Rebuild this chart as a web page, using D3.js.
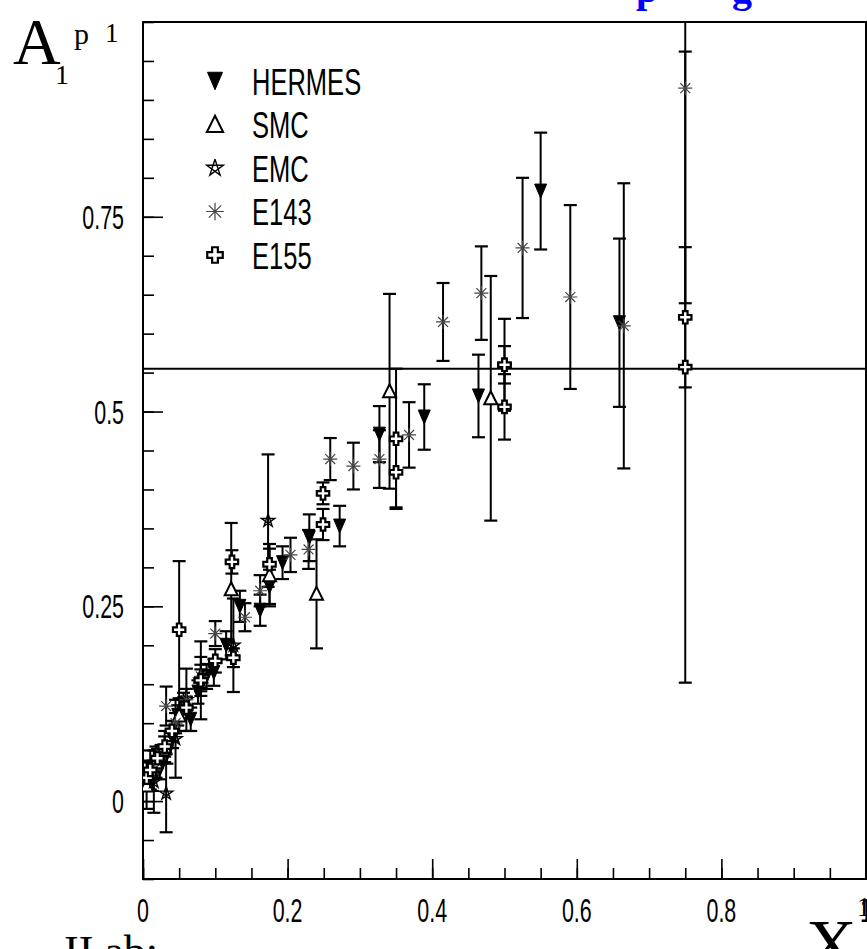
<!DOCTYPE html>
<html><head><meta charset="utf-8">
<script src="https://cdn.jsdelivr.net/npm/d3@7"></script>
<style>html,body{margin:0;padding:0;background:#fff;}svg{display:block;}</style>
</head><body>
<script>
// ---------- data ----------
const hermesX = [0.013,0.023,0.033,0.041,0.048,0.056,0.066,0.076,0.088,0.098,0.115,0.134,0.162,0.175,0.193,0.230,0.272,0.327,0.389,0.464,0.550,0.659];
const hermesY = [0.025,0.040,0.060,0.080,0.110,0.125,0.105,0.140,0.160,0.165,0.200,0.250,0.245,0.275,0.306,0.338,0.353,0.471,0.493,0.520,0.783,0.614];
const hermesE = [0.012,0.012,0.012,0.012,0.013,0.014,0.015,0.015,0.016,0.017,0.018,0.020,0.020,0.022,0.021,0.030,0.026,0.036,0.042,0.053,0.075,0.108];

const smcX = [0.005,0.010,0.018,0.030,0.050,0.080,0.122,0.175,0.240,0.341,0.481];
const smcY = [0.020,0.040,0.050,0.070,0.110,0.160,0.272,0.290,0.266,0.526,0.517];
const smcE = [0.030,0.025,0.020,0.020,0.020,0.025,0.085,0.040,0.070,0.125,0.157];

const emcX = [0.015,0.032,0.045,0.060,0.080,0.125,0.173];
const emcY = [0.025,0.010,0.080,0.130,0.155,0.200,0.360];
const emcE = [0.040,0.050,0.050,0.040,0.050,0.060,0.085];

const e143X = [0.015,0.025,0.032,0.045,0.060,0.080,0.100,0.141,0.162,0.204,0.229,0.259,0.291,0.327,0.368,0.415,0.468,0.525,0.591,0.665,0.750];
const e143Y = [0.040,0.060,0.122,0.100,0.130,0.160,0.215,0.236,0.270,0.316,0.323,0.439,0.430,0.439,0.470,0.615,0.652,0.710,0.647,0.610,0.915];
const e143E = [0.012,0.012,0.025,0.013,0.014,0.015,0.016,0.018,0.020,0.022,0.025,0.027,0.030,0.037,0.042,0.050,0.060,0.090,0.118,0.183,0.276];

const e155X = [0.005,0.010,0.020,0.030,0.040,0.050,0.060,0.080,0.100,0.123,0.125,0.175,0.249,0.249,0.350,0.350,0.500,0.500,0.500,0.750,0.750];
const e155Y = [0.030,0.040,0.055,0.070,0.090,0.220,0.120,0.155,0.180,0.307,0.184,0.304,0.395,0.355,0.465,0.422,0.560,0.560,0.506,0.621,0.557];
const e155E = [0.012,0.012,0.012,0.013,0.013,0.088,0.014,0.014,0.015,0.015,0.012,0.020,0.014,0.020,0.090,0.045,0.059,0.024,0.042,0.090,0.405];

const legendLabels = ["HERMES","SMC","EMC","E143","E155"];
const xMajorTicks = [0,0.2,0.4,0.6,0.8,1];
const xTickLabels = ["0","0.2","0.4","0.6","0.8","1"];
const yMajorTicks = [0,0.25,0.5,0.75];
const yTickLabels = ["0","0.25","0.5","0.75"];
const refLineY = 0.555;

// ---------- layout ----------
const W = 867, H = 949;
const L = 143, R = 866, T = 22, B = 879;
const x = d3.scaleLinear().domain([0,1]).range([L,R]);
const y = d3.scaleLinear().domain([-0.1,1.0]).range([B,T]);

const svg = d3.select("body").append("svg").attr("width",W).attr("height",H);
const sans = "'Liberation Sans',Arial,sans-serif";
const serif = "'Liberation Serif','DejaVu Serif',serif";
const SX = 0.63; // horizontal condensation of tick labels

svg.append("defs").append("clipPath").attr("id","clip")
  .append("rect").attr("x",L).attr("y",T).attr("width",R-L).attr("height",B-T);

// ticks (inward)
const xMinor = d3.range(0,1.0001,0.05).map(v=>+v.toFixed(2));
const yMinor = d3.range(-0.1,1.0001,0.05).map(v=>+v.toFixed(2));

svg.append("g").attr("transform",`translate(0,${B})`)
  .call(d3.axisBottom(x).tickValues(xMinor).tickSize(-11).tickFormat(""));
svg.append("g").attr("transform",`translate(0,${B})`)
  .call(d3.axisBottom(x).tickValues(xMajorTicks).tickSize(-20).tickFormat(""));
svg.append("g").attr("transform",`translate(${L},0)`)
  .call(d3.axisLeft(y).tickValues(yMinor).tickSize(-11).tickFormat(""));
svg.append("g").attr("transform",`translate(${L},0)`)
  .call(d3.axisLeft(y).tickValues(yMajorTicks).tickSize(-20).tickFormat(""));
svg.selectAll(".domain").remove();
svg.selectAll(".tick line").attr("stroke","#000").attr("stroke-width",1.6);

// tick labels (condensed)
svg.append("g").selectAll("text").data(xMajorTicks).join("text")
  .attr("transform",d=>`translate(${x(d)},922) scale(${SX},1)`)
  .attr("text-anchor","middle").attr("font-family",sans).attr("font-size",34)
  .text((d,i)=>xTickLabels[i]);
svg.append("g").selectAll("text").data(yMajorTicks).join("text")
  .attr("transform",d=>`translate(124,${y(d)+12}) scale(${SX},1)`)
  .attr("text-anchor","end").attr("font-family",sans).attr("font-size",34)
  .text((d,i)=>yTickLabels[i]);

// frame
svg.append("rect").attr("x",L).attr("y",T).attr("width",R-L).attr("height",B-T)
  .attr("fill","none").attr("stroke","#000").attr("stroke-width",2);

// reference line
svg.append("line").attr("x1",x(0)).attr("x2",x(1)).attr("y1",y(refLineY)).attr("y2",y(refLineY))
  .attr("stroke","#000").attr("stroke-width",2);

// markers
function markerPath(type, s){
  switch(type){
    case "HERMES": return `M${-6*s},${-7*s}L${6*s},${-7*s}L0,${7*s}Z`;
    case "SMC": return `M0,${-7*s}L${6.5*s},${6*s}L${-6.5*s},${6*s}Z`;
    case "EMC": {
      const pts = d3.range(5).map(k=>{const a=-Math.PI/2+k*2*Math.PI/5; return [7*s*Math.cos(a),7*s*Math.sin(a)];});
      const o=[0,2,4,1,3,0].map(k=>pts[k]);
      return "M"+o.map(p=>p[0].toFixed(2)+","+p[1].toFixed(2)).join("L");
    }
    case "E143": {
      const r=7*s, d=r*0.707;
      return `M0,${-r}L0,${r}M${-r},0L${r},0M${-d},${-d}L${d},${d}M${-d},${d}L${d},${-d}`;
    }
    case "E155": {
      const a=2.3*s, b=6.2*s;
      return `M${-a},${-b}L${a},${-b}L${a},${-a}L${b},${-a}L${b},${a}L${a},${a}L${a},${b}L${-a},${b}L${-a},${a}L${-b},${a}L${-b},${-a}L${-a},${-a}Z`;
    }
  }
}
function markerStyle(sel,type){
  if(type==="HERMES") sel.attr("fill","#000").attr("stroke","#000").attr("stroke-width",1);
  else if(type==="SMC") sel.attr("fill","#fff").attr("stroke","#000").attr("stroke-width",2);
  else if(type==="EMC") sel.attr("fill","none").attr("stroke","#000").attr("stroke-width",1.4);
  else if(type==="E143") sel.attr("fill","none").attr("stroke","#444").attr("stroke-width",1.2);
  else sel.attr("fill","#fff").attr("stroke","#000").attr("stroke-width",2.2);
}

const sets = [
  {name:"HERMES", xs:hermesX, ys:hermesY, es:hermesE},
  {name:"SMC", xs:smcX, ys:smcY, es:smcE},
  {name:"EMC", xs:emcX, ys:emcY, es:emcE},
  {name:"E143", xs:e143X, ys:e143Y, es:e143E},
  {name:"E155", xs:e155X, ys:e155Y, es:e155E}
];

const plot = svg.append("g").attr("clip-path","url(#clip)");
const errG = plot.append("g");
const mkG = plot.append("g");
sets.forEach(s=>{
  const data = s.xs.map((v,i)=>({x:v,y:s.ys[i],e:s.es[i]}));
  const g = errG.append("g");
  g.selectAll("line.v").data(data).join("line").attr("class","v")
    .attr("x1",d=>x(d.x)).attr("x2",d=>x(d.x))
    .attr("y1",d=>y(d.y+d.e)).attr("y2",d=>y(d.y-d.e))
    .attr("stroke","#000").attr("stroke-width",2);
  [1,-1].forEach(sg=>{
    g.append("g").selectAll("line").data(data).join("line")
      .attr("x1",d=>x(d.x)-6.5).attr("x2",d=>x(d.x)+6.5)
      .attr("y1",d=>y(d.y+sg*d.e)).attr("y2",d=>y(d.y+sg*d.e))
      .attr("stroke","#000").attr("stroke-width",2.2);
  });
  mkG.append("g").selectAll("path").data(data).join("path")
    .attr("d",markerPath(s.name,1))
    .attr("transform",d=>`translate(${x(d.x)},${y(d.y)})`)
    .call(markerStyle,s.name);
});

// legend
const leg = svg.append("g");
legendLabels.forEach((lab,i)=>{
  const cy = 81 + i*43.5;
  leg.append("path").attr("d",markerPath(lab,1.25)).attr("transform",`translate(215,${cy})`).call(markerStyle,lab);
  leg.append("text").attr("transform",`translate(252,${cy+13.5}) scale(0.69,1)`)
    .attr("font-family",sans).attr("font-size",37).attr("fill","#000").text(lab);
});

// titles
svg.append("text").attr("x",13).attr("y",64).attr("font-family",serif).attr("font-size",66).text("A");
svg.append("text").attr("x",55).attr("y",84).attr("font-family",serif).attr("font-size",28).text("1");
svg.append("text").attr("x",74).attr("y",44).attr("font-family",serif).attr("font-size",30).text("p");
svg.append("text").attr("x",105).attr("y",42).attr("font-family",serif).attr("font-size",27).text("1");
svg.append("text").attr("x",806).attr("y",968).attr("font-family",serif).attr("font-size",70).text("X");
svg.append("text").attr("x",857).attr("y",916).attr("font-family",serif).attr("font-size",27).text("1");
svg.append("text").attr("x",64).attr("y",966).attr("font-family",serif).attr("font-size",44).text("II ab:");
svg.append("text").attr("x",636).attr("y",2).attr("font-family",serif).attr("font-weight","bold").attr("font-size",40).attr("fill","#0000ff").text("p");
svg.append("text").attr("x",732).attr("y",2).attr("font-family",serif).attr("font-weight","bold").attr("font-size",40).attr("fill","#0000ff").text("g");
</script>
</body></html>
